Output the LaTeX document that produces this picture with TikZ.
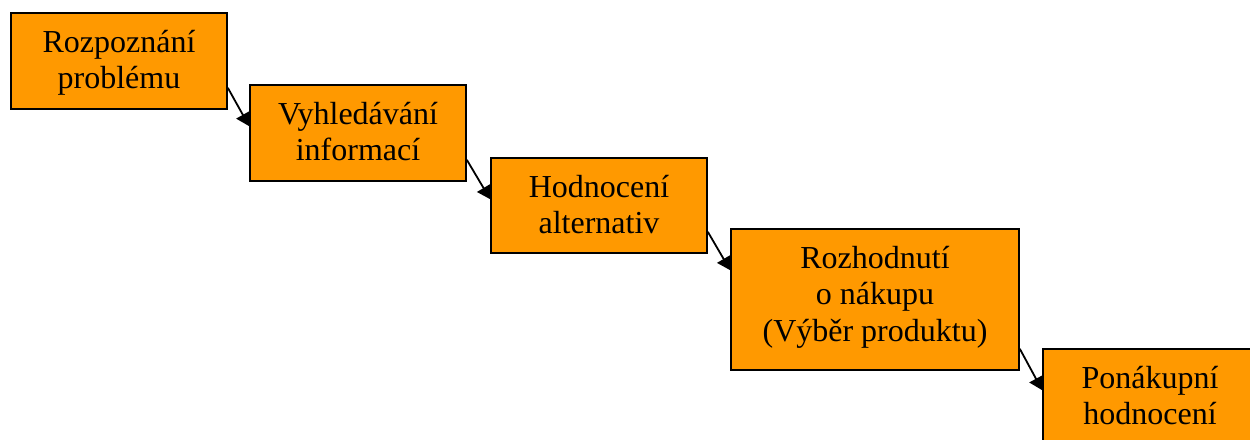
\documentclass[tikz,border=0pt]{standalone}
\usepackage{fontspec}
\setmainfont{Liberation Serif}
\usetikzlibrary{arrows.meta}
\definecolor{steporange}{RGB}{255,153,0}
\tikzset{
  stepbox/.style={draw=black, line width=1.6pt, fill=steporange, rectangle, inner sep=0pt},
  steptext/.style={anchor=north, inner sep=0pt, align=center,
    font=\fontsize{32pt}{36.5pt}\selectfont},
  flow/.style={line width=1.8pt, -{Triangle[length=13pt, width=15pt]}}
}
\newcommand{\firstline}{\rule{0pt}{30pt}}
\begin{document}
\begin{tikzpicture}[x=1pt, y=-1pt]
  \useasboundingbox (0,0) rectangle (1250,439);
  \begin{scope}
    \clip (0,0) rectangle (1250,439);
    % process steps
    \node[stepbox, minimum width=216pt, minimum height=96pt] (b1) at (119,61) {};
    \node[stepbox, minimum width=216pt, minimum height=96pt] (b2) at (358,133) {};
    \node[stepbox, minimum width=216pt, minimum height=95pt] (b3) at (599,205.5) {};
    \node[stepbox, minimum width=288pt, minimum height=141pt] (b4) at (875,299.5) {};
    \node[stepbox, minimum width=214pt, minimum height=96pt] (b5) at (1150,397) {};
    % labels, set from the top of each box
    \node[steptext] (t1) at ([yshift=-10pt]b1.north) {\firstline Rozpoznání\\problému};
    \node[steptext] (t2) at ([yshift=-10pt]b2.north) {\firstline Vyhledávání\\informací};
    \node[steptext] (t3) at ([yshift=-10pt]b3.north) {\firstline Hodnocení\\alternativ};
    \node[steptext] (t4) at ([yshift=-10pt]b4.north) {\firstline Rozhodnutí\\o nákupu\\(Výběr produktu)};
    \node[steptext] (t5) at ([yshift=-10pt]b5.north) {\firstline Ponákupní\\hodnocení};
    % connectors between consecutive steps
    \draw[flow] ([yshift=22pt]b1.south east) -- ([yshift=-42pt]b2.north west);
    \draw[flow] ([yshift=22pt]b2.south east) -- ([yshift=-42pt]b3.north west);
    \draw[flow] ([yshift=22pt]b3.south east) -- ([yshift=-42pt]b4.north west);
    \draw[flow] ([yshift=22pt]b4.south east) -- ([yshift=-42pt]b5.north west);
  \end{scope}
\end{tikzpicture}
\end{document}
